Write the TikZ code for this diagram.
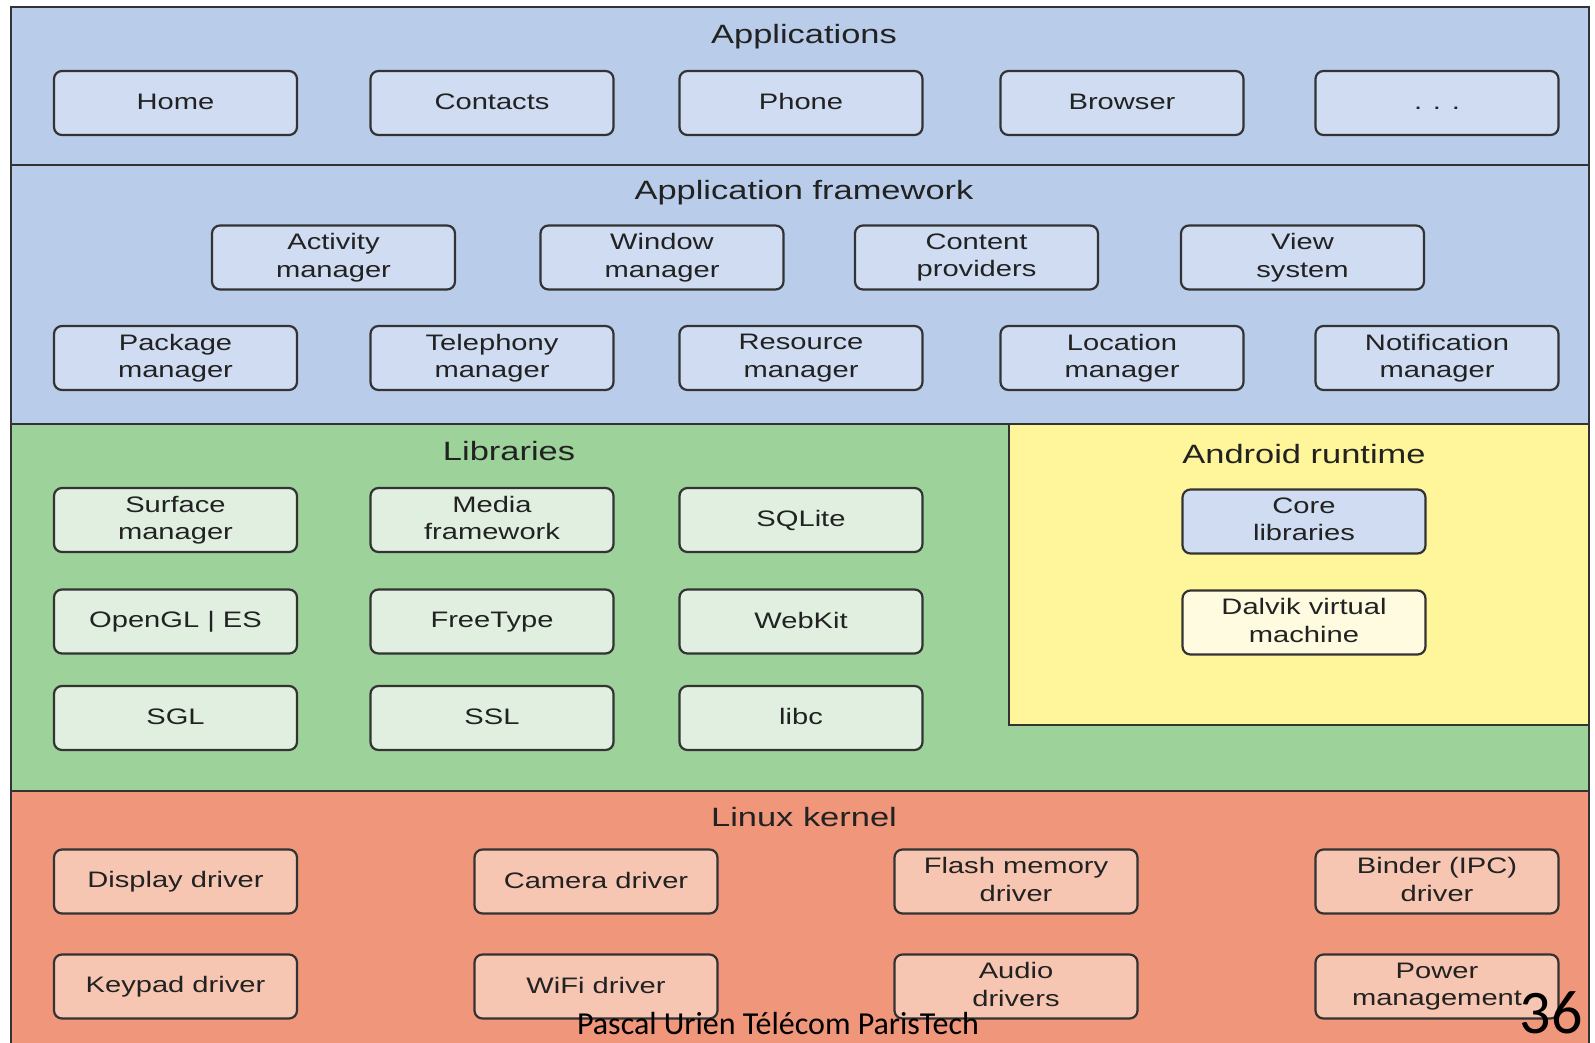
\documentclass[tikz,border=0pt]{standalone}
\usepackage{fontspec}
\setmainfont{Liberation Sans}
\newfontfamily\boxfam[FakeStretch=1.3]{Liberation Sans}
\newfontfamily\footfam{Carlito}
\newcommand\bxstrut{\rule[-4.5pt]{0pt}{22pt}}
\definecolor{appbg}{HTML}{B9CDEA}
\definecolor{appbox}{HTML}{CFDCF2}
\definecolor{libbg}{HTML}{9DD29B}
\definecolor{libbox}{HTML}{E0EFDF}
\definecolor{rtbg}{HTML}{FFF59A}
\definecolor{rtbox}{HTML}{FFFBE0}
\definecolor{kbg}{HTML}{F0967A}
\definecolor{kbox}{HTML}{F6C6B2}
\definecolor{linec}{HTML}{333333}
\definecolor{textc}{HTML}{222222}
\tikzset{
  band/.style={draw=linec, line width=2pt},
  abox/.style={draw=linec, line width=2.2pt, rounded corners=8pt,
    minimum width=243pt, minimum height=64pt, inner sep=0pt, align=center,
    text=textc, font=\boxfam\fontsize{22.4}{27.5}\selectfont,
    execute at begin node={\bxstrut}, execute at end node={\bxstrut}},
  ttl/.style={inner sep=0pt, text=textc, font=\boxfam\fontsize{26.5}{30}\selectfont},
}
\begin{document}
\begin{tikzpicture}[x=1pt,y=-1pt]
\useasboundingbox (0,0) rectangle (1595,1042);
\clip (0,0) rectangle (1595,1042);
\fill[white] (0,0) rectangle (1595,1042);
% bands
\draw[band, fill=appbg] (11,7) rectangle (1589,165);
\draw[band, fill=appbg] (11,165) rectangle (1589,424);
\draw[band, fill=libbg] (11,424) rectangle (1589,791);
\draw[band, fill=rtbg] (1009,424) rectangle (1589,725);
\draw[band, fill=kbg] (11,791) rectangle (1589,1070);
% titles
\node[ttl] (tapps) at (804,37) {Applications};
\node[ttl] (tfw) at (804,193) {Application framework};
\node[ttl] (tlib) at (509,451) {Libraries};
\node[ttl] (trt) at (1304,454) {Android runtime};
\node[ttl] (tk) at (804,817) {Linux kernel};
% applications
\node[abox, fill=appbox] (home) at (175.5,103) {Home};
\node[abox, fill=appbox] (contacts) at (492,103) {Contacts};
\node[abox, fill=appbox] (phone) at (801,103) {Phone};
\node[abox, fill=appbox] (browser) at (1122,103) {Browser};
\node[abox, fill=appbox] (more) at (1437,103) {. . .};
% framework
\node[abox, fill=appbox] (activity) at (333.5,257.5) {Activity\\manager};
\node[abox, fill=appbox] (window) at (662,257.5) {Window\\manager};
\node[abox, fill=appbox] (content) at (976.5,257.5) {Content\\providers};
\node[abox, fill=appbox] (view) at (1302.5,257.5) {View\\system};
\node[abox, fill=appbox] (package) at (175.5,358) {Package\\manager};
\node[abox, fill=appbox] (telephony) at (492,358) {Telephony\\manager};
\node[abox, fill=appbox] (resource) at (801,358) {Resource\\manager};
\node[abox, fill=appbox] (location) at (1122,358) {Location\\manager};
\node[abox, fill=appbox] (notification) at (1437,358) {Notification\\manager};
% libraries
\node[abox, fill=libbox] (surface) at (175.5,520) {Surface\\manager};
\node[abox, fill=libbox] (media) at (492,520) {Media\\framework};
\node[abox, fill=libbox] (sqlite) at (801,520) {SQLite};
\node[abox, fill=libbox] (opengl) at (175.5,621.5) {OpenGL | ES};
\node[abox, fill=libbox] (freetype) at (492,621.5) {FreeType};
\node[abox, fill=libbox] (webkit) at (801,621.5) {WebKit};
\node[abox, fill=libbox] (sgl) at (175.5,718) {SGL};
\node[abox, fill=libbox] (ssl) at (492,718) {SSL};
\node[abox, fill=libbox] (libc) at (801,718) {libc};
% runtime
\node[abox, fill=appbox] (core) at (1304,521.5) {Core\\libraries};
\node[abox, fill=rtbox] (dalvik) at (1304,622.5) {Dalvik virtual\\machine};
% kernel
\node[abox, fill=kbox] (display) at (175.5,881.5) {Display driver};
\node[abox, fill=kbox] (camera) at (596,881.5) {Camera driver};
\node[abox, fill=kbox] (flash) at (1016,881.5) {Flash memory\\driver};
\node[abox, fill=kbox] (binder) at (1437,881.5) {Binder (IPC)\\driver};
\node[abox, fill=kbox] (keypad) at (175.5,986.5) {Keypad driver};
\node[abox, fill=kbox] (wifi) at (596,986.5) {WiFi driver};
\node[abox, fill=kbox] (audio) at (1016,986.5) {Audio\\drivers};
\node[abox, fill=kbox] (power) at (1437,986.5) {Power\\management};
% footer
\node[anchor=base, inner sep=0pt, font=\footfam\fontsize{32}{36}\selectfont] (footer) at (778,1034) {Pascal Urien Télécom ParisTech};
\node[anchor=base east, inner sep=0pt, font=\footfam\fontsize{62}{70}\selectfont] (pagenum) at (1583,1033) {36};
\end{tikzpicture}
\end{document}
